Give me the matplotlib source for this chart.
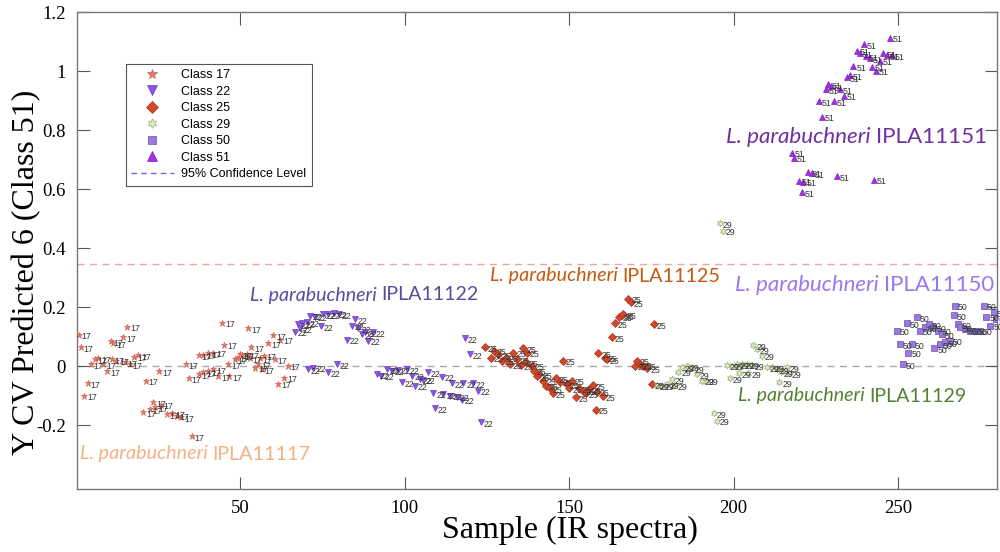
import matplotlib
matplotlib.use("Agg")
import matplotlib.pyplot as plt
from matplotlib.lines import Line2D

# ---------------- data ----------------
c17_x = [1, 1.7, 2.7, 3.7, 4.7, 5.9, 6.9, 8.5, 9.7, 10.8, 11.5, 11, 12.5, 14.5, 15.7, 15, 16.6, 17.9, 19.1,
         20.6, 21.4, 22.6, 23.6, 24.2, 25.5, 26, 27.7, 29.4, 30.8, 32.1, 33.6, 34.5, 35.3, 37.5, 37.5, 38.9,
         38.9, 40.4, 40.4, 41.9, 41.9, 43.4, 44.6, 45.2, 46.4, 46.7, 48.5, 49, 50, 50.5, 52, 52.5, 53, 53.5,
         54.6, 55.6, 56.6, 56, 57.3, 58.6, 60.1, 61.6, 62.2, 63.5, 60.6, 64.5]
c17_y = [0.106, 0.064, -0.10, -0.058, 0.007, 0.024, 0.027, 0.007, -0.017, 0.085, 0.078, 0.024, 0.018, 0.098,
         0.133, 0.013, 0.007, 0.032, 0.037, -0.157, -0.05, -0.146, -0.123, -0.139, -0.018, -0.131, -0.163,
         -0.16, -0.168, -0.174, 0.007, -0.041, -0.238, 0.037, -0.027, 0.038, -0.021, 0.043, -0.018, 0.046,
         -0.01, -0.035, 0.147, 0.072, 0.007, -0.035, 0.024, 0.029, 0.041, 0.037, 0.041, 0.128, 0.026, 0.063,
         -0.005, 0.007, -0.01, 0.026, 0.035, 0.077, 0.105, -0.06, 0.089, -0.04, 0.024, 0.001]

c22_x = [66.7, 67.7, 68.2, 69, 70.3, 70.6, 71.3, 72.3, 72.8, 74.6, 75.3, 76.7, 76.8, 78.7, 79.4, 80.1, 82.4,
         84.1, 85, 86, 87, 88, 89, 90.5, 91.5, 93, 94.6, 96.1, 98.1, 99.1, 100.7, 102.2, 103.2, 104.7, 105.7,
         107.2, 108.8, 109.3, 111.3, 111.8, 113.8, 114.3, 115.9, 117.4, 117.9, 118.4, 119.9, 120.9, 122.4, 123.2]
c22_y = [0.116, 0.142, 0.128, 0.146, 0.148, -0.01, 0.171, -0.005, 0.168, 0.135, 0.176, -0.021, 0.176, 0.18,
         0.007, 0.176, 0.089, 0.137, 0.159, 0.128, 0.108, 0.114, 0.086, 0.114, -0.027, -0.033, -0.01, -0.016,
         -0.013, -0.055, -0.01, -0.033, -0.067, -0.044, -0.046, -0.021, -0.092, -0.143, -0.036, -0.095, -0.1,
         -0.058, -0.104, -0.114, -0.058, 0.094, 0.041, -0.058, -0.084, -0.191]

c25_x = [124.5, 126.2, 127.2, 128.5, 129.5, 130.9, 131.9, 133.1, 134.1, 135.3, 136.1, 136.9, 137.3, 138.7,
         139.4, 140.2, 141, 142.2, 143, 144.2, 145.2, 146, 147.3, 148.1, 149.3, 150.1, 150.8, 152.1, 153.1,
         154.3, 155.2, 155.9, 157.2, 158.2, 158.4, 158.9, 160.2, 160.9, 161.6, 163, 164, 165.3, 166, 166.5,
         168, 168.8, 170.1, 170.6, 171.6, 172.6, 173.8, 175.1, 175.8]
c25_y = [0.063, 0.029, 0.052, 0.041, 0.018, 0.029, 0.007, 0.046, 0.024, 0.003, 0.06, 0.013, 0.046, 0.001,
         -0.016, -0.035, -0.027, -0.05, -0.067, -0.076, -0.092, -0.042, -0.053, 0.018, -0.061, -0.076, -0.05,
         -0.106, -0.076, -0.084, -0.092, -0.078, -0.064, -0.148, -0.087, 0.044, -0.103, 0.029, 0.024, 0.097,
         0.146, 0.168, 0.173, 0.176, 0.229, 0.216, 0.001, 0.018, 0.007, 0.001, -0.008, -0.061, 0.142]

c29_x = [176.7, 178.2, 179.7, 181.2, 182, 183.2, 184.3, 185.8, 187.3, 188.8, 190.3, 191.6, 194.1, 194.9, 195.9,
         196.7, 197.9, 198.9, 199.4, 201, 201.5, 202.5, 204, 204.5, 205.5, 206, 207.1, 208.6, 210.1, 211.6,
         213.1, 213.9, 214.3, 216.2, 216.7]
c29_y = [-0.064, -0.067, -0.061, -0.044, -0.064, -0.019, -0.004, -0.001, -0.008, -0.027, -0.05, -0.05, -0.159,
         -0.185, 0.485, 0.459, 0.003, -0.042, 0.001, 0.007, -0.025, 0.007, 0.007, -0.025, 0.003, 0.071, 0.058,
         0.035, -0.004, -0.004, -0.01, -0.055, -0.021, -0.004, -0.024]

c51_x = [217.7, 218.4, 219.7, 220.7, 221.2, 222.7, 223.8, 225.8, 226.8, 228.1, 228.8, 229.5, 230.5, 231.4,
         232.4, 233.4, 234.4, 235.2, 236.4, 237.4, 238.4, 239.5, 240.3, 241.5, 242, 242.5, 243.3, 244.5,
         245.5, 246.6, 247.4, 248.1]
c51_y = [0.724, 0.707, 0.628, 0.589, 0.625, 0.657, 0.654, 0.899, 0.846, 0.939, 0.956, 0.948, 0.899, 0.643,
         0.939, 0.916, 0.979, 0.986, 1.016, 1.069, 1.061, 1.092, 1.05, 1.043, 1.015, 0.632, 1.001, 1.035,
         1.061, 1.054, 1.114, 1.054]

c50_x = [249.6, 250.6, 251.4, 252.6, 253.1, 254.2, 255.7, 256.7, 258.2, 259.2, 260.7, 261, 262.2, 262.6, 263.3,
         264.3, 265.6, 266.8, 267.3, 268.3, 268.8, 270.3, 271.9, 273.4, 274.9, 275.9, 276.8, 278, 279, 279.8]
c50_y = [0.12, 0.075, 0.007, 0.146, 0.046, 0.075, 0.165, 0.12, 0.131, 0.142, 0.131, 0.06, 0.12, 0.075, 0.108,
         0.08, 0.086, 0.173, 0.204, 0.142, 0.131, 0.125, 0.12, 0.12, 0.12, 0.204, 0.168, 0.137, 0.182, 0.159]

class_names = ["17", "22", "25", "29", "50", "51"]
conf_level = 0.345
x_ticks = [50, 100, 150, 200, 250]
y_ticks = [-0.2, 0, 0.2, 0.4, 0.6, 0.8, 1.0, 1.2]
y_tick_labels = ["-0.2", "0", "0.2", "0.4", "0.6", "0.8", "1", "1.2"]

annotations = [
    ("L. parabuchneri", "IPLA11117", 80, 454, "#F4B183", 14.2),
    ("L. parabuchneri", "IPLA11122", 250, 295, "#5B4B9E", 14.1),
    ("L. parabuchneri", "IPLA11125", 490, 276, "#C55A11", 14.2),
    ("L. parabuchneri", "IPLA11151", 726, 137, "#7030A0", 16.1),
    ("L. parabuchneri", "IPLA11150", 735, 285, "#9A78F0", 16.0),
    ("L. parabuchneri", "IPLA11129", 738, 396, "#548235", 14.1),
]

# ---------------- styles ----------------
styles = {
    "17": dict(marker="*", color="#E47C6E", edge="#D0604F", ms=5),
    "22": dict(marker="v", color="#8A55E6", edge="#6A3CC0", ms=4.8),
    "25": dict(marker="D", color="#D2482A", edge="#A83420", ms=4),
    "29": dict(marker=(6, 1, 0), color="#DDEBC0", edge="#9DB07A", ms=5),
    "50": dict(marker="s", color="#9B7BDF", edge="#6A4FB0", ms=4),
    "51": dict(marker="^", color="#A62FE6", edge="#8020C0", ms=4.8),
}
data = {"17": (c17_x, c17_y), "22": (c22_x, c22_y), "25": (c25_x, c25_y),
        "29": (c29_x, c29_y), "50": (c50_x, c50_y), "51": (c51_x, c51_y)}

fig = plt.figure(figsize=(10, 5.52), dpi=100)
ax = fig.add_axes([0.077, 0.114, 0.92, 0.864])

ax.axhline(0, color="#AAAAAA", lw=1, ls=(0, (5, 4)), zorder=1)
ax.axhline(conf_level, color="#F4A0A0", lw=1, ls=(0, (5, 4)), zorder=1)

for name in class_names:
    xs, ys = data[name]
    st = styles[name]
    ax.plot(xs, ys, ls="none", marker=st["marker"], mfc=st["color"], mec=st["edge"],
            mew=0.5, ms=st["ms"], zorder=3)
    for xv, yv in zip(xs, ys):
        t = ax.annotate(name, (xv, yv), xytext=(2, -1.5), textcoords="offset points",
                        fontsize=6.3, color="#333333", ha="left", va="center",
                        family="Liberation Sans", zorder=4)
        t.set_clip_on(True)

ax.set_xlim(0.5, 280)
ax.set_ylim(-0.417, 1.2)
ax.set_xticks(x_ticks)
ax.set_yticks(y_ticks)
ax.set_yticklabels(y_tick_labels)
ax.tick_params(direction="in", length=9, width=0.8, top=True, right=True, color="#555555",
               labelsize=13.5, pad=8)
for lab in ax.get_xticklabels() + ax.get_yticklabels():
    lab.set_family("Liberation Serif")
for sp in ax.spines.values():
    sp.set_color("#777777")
    sp.set_linewidth(1)

# axis titles placed in figure pixels
fig.text(570 / 1000, 1 - 530 / 552, "Sample (IR spectra)", fontsize=23, family="Liberation Serif",
         ha="center", va="center")
fig.text(27 / 1000, 1 - 272 / 552, "Y CV Predicted 6 (Class 51)", fontsize=23, family="Liberation Serif",
         ha="center", va="center", rotation=90)

# legend
handles = []
for name in class_names:
    st = styles[name]
    handles.append(Line2D([], [], ls="none", marker=st["marker"], mfc=st["color"], mec=st["edge"],
                          mew=0.5, ms=st["ms"] + 2, label="Class " + name))
handles.append(Line2D([], [], color="#6A6AD8", lw=1, ls=(0, (4, 3)), label="95% Confidence Level"))
leg = ax.legend(handles=handles, loc="upper left", bbox_to_anchor=(0.046, 0.905), fancybox=False,
                prop={"family": "Liberation Sans", "size": 9}, handlelength=3.4, labelspacing=0.36,
                borderpad=0.45, handletextpad=0.6, framealpha=1)
leg.get_frame().set_edgecolor("#555555")
leg.get_frame().set_linewidth(0.8)

# species annotations
fig.canvas.draw()
renderer = fig.canvas.get_renderer()
for ital, normal, px, py, col, size in annotations:
    t1 = fig.text(px / 1000, 1 - py / 552, ital + " ", color=col, fontsize=size, style="italic",
                  family="Lato", va="center", ha="left")
    bb = t1.get_window_extent(renderer=renderer)
    fig.text(bb.x1 / 1000, 1 - py / 552, normal, color=col, fontsize=size,
             family="Lato", va="center", ha="left")

fig.savefig("out.png", dpi=100)
